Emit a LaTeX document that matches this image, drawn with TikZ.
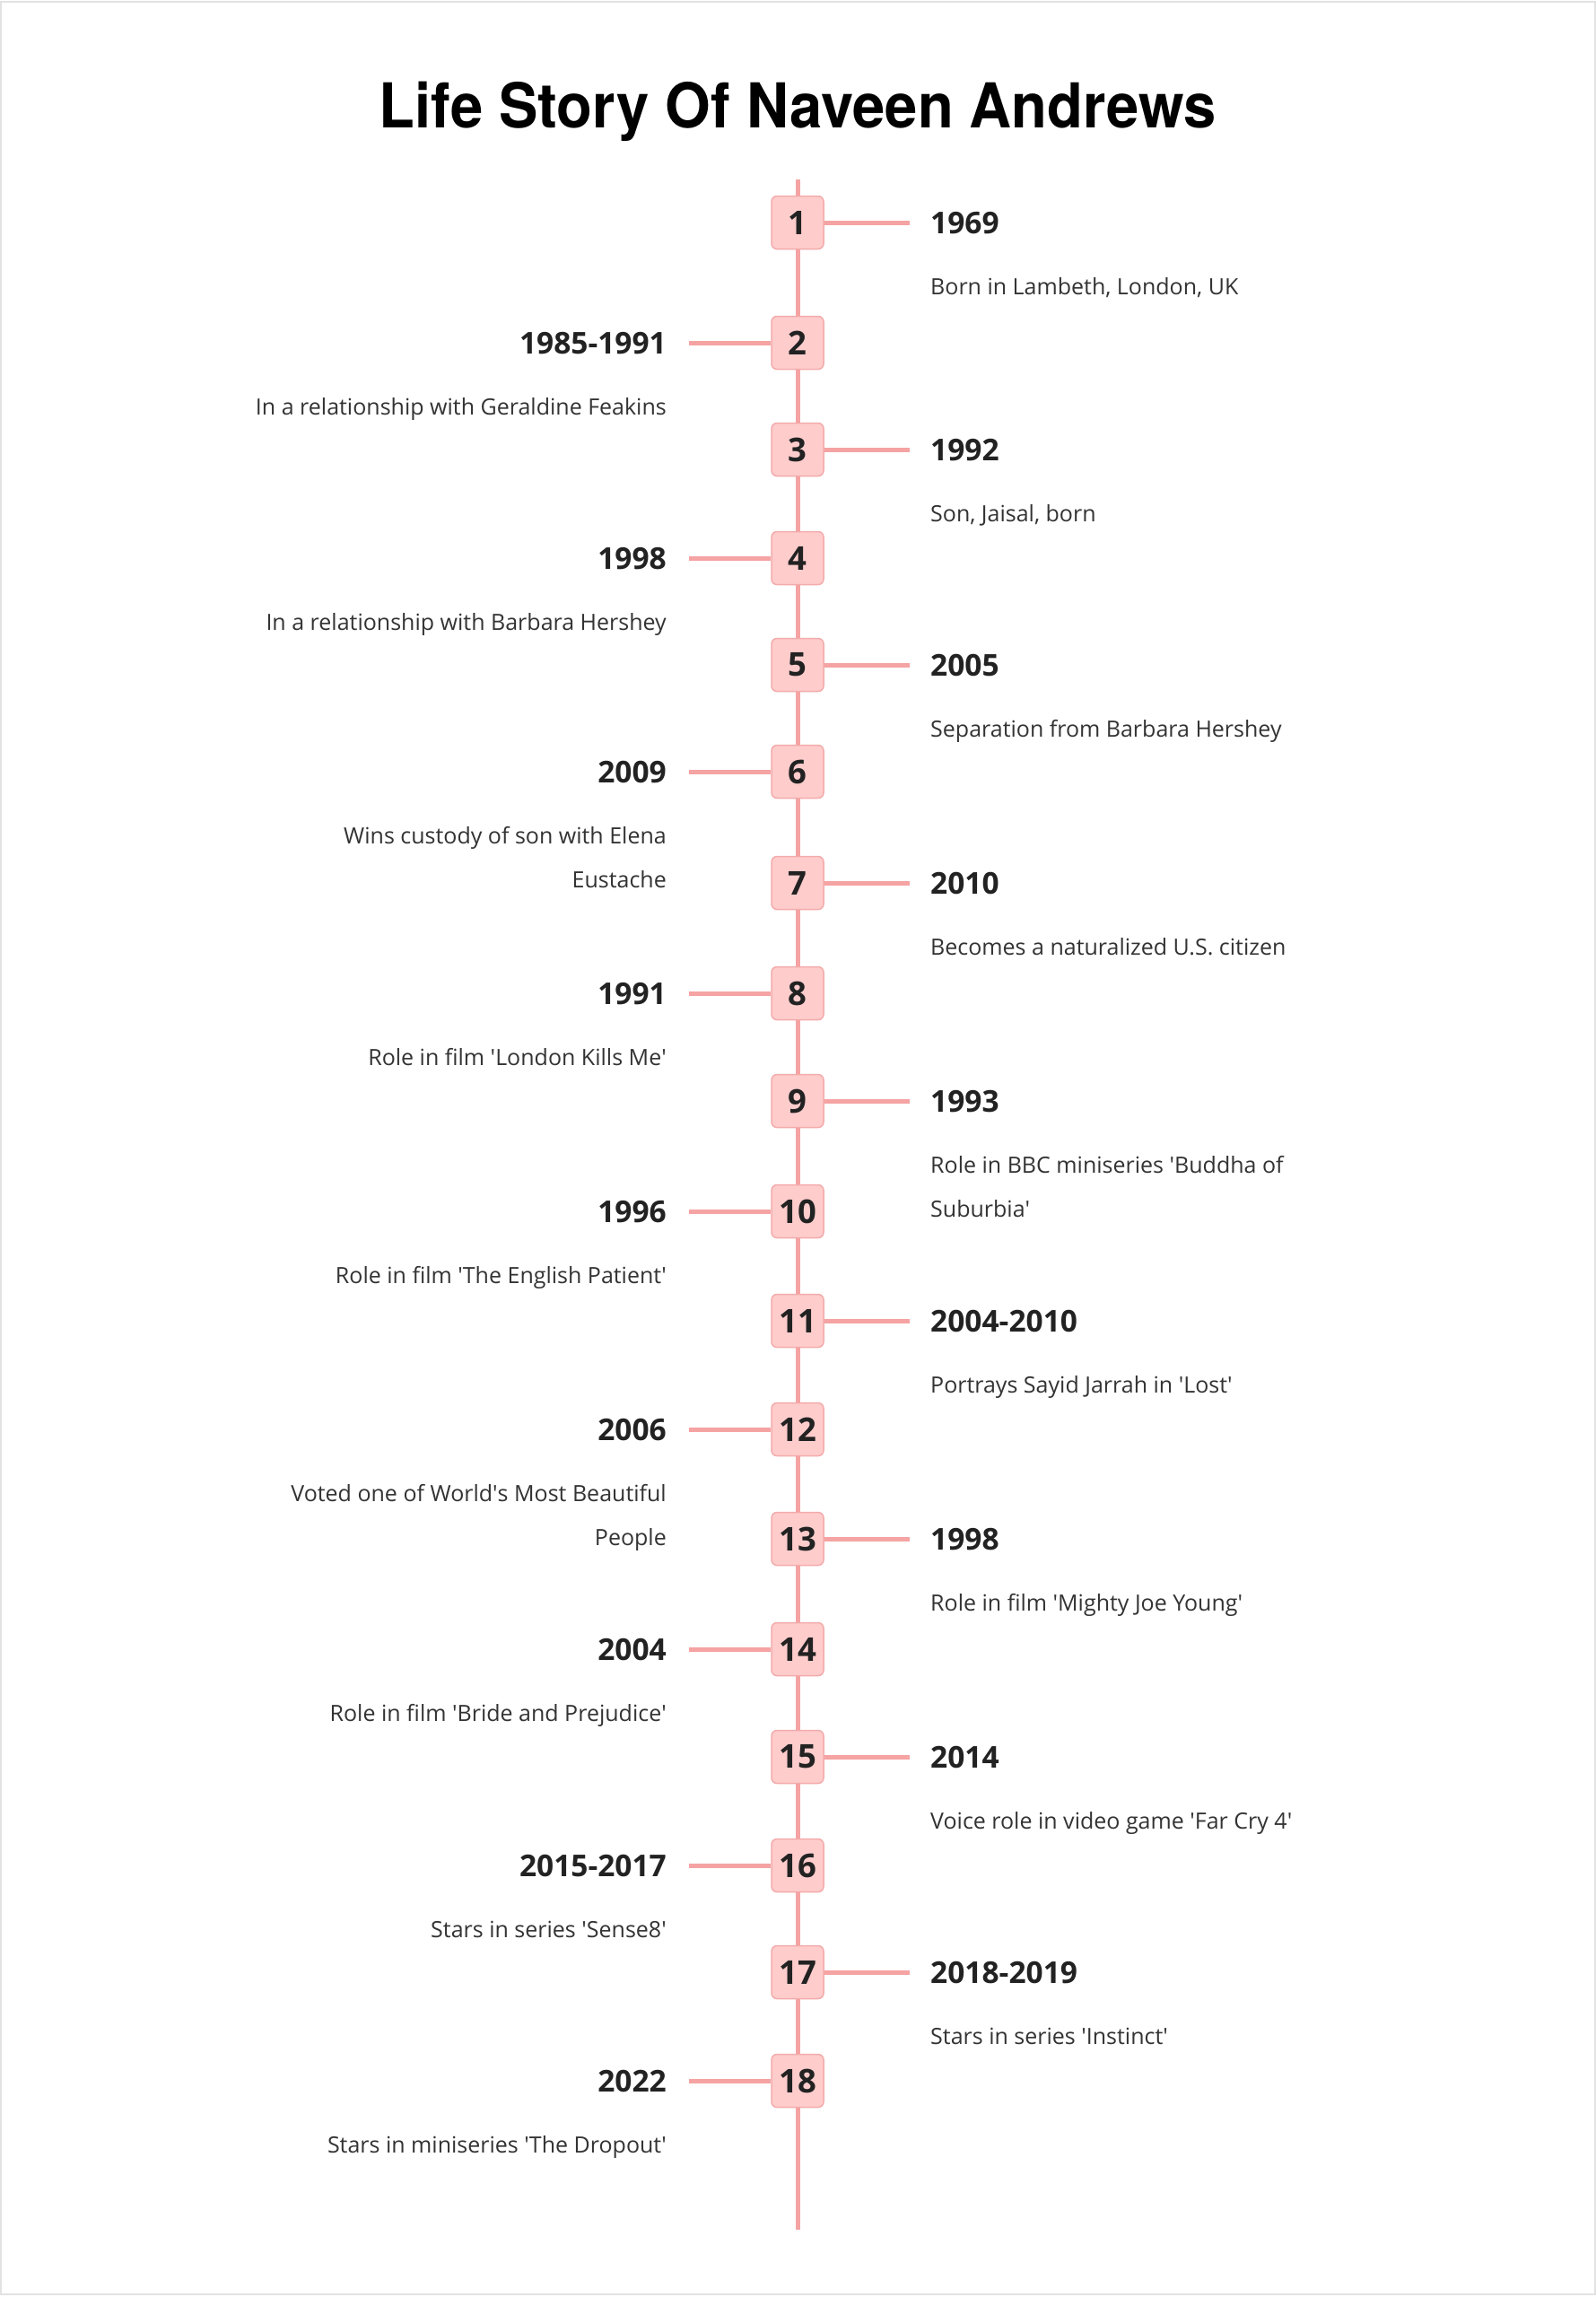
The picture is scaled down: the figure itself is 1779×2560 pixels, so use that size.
\documentclass[tikz,border=0pt]{standalone}
\usepackage{fontspec}
\setmainfont{Open Sans}
\newfontfamily\titlefont{TeX Gyre Heros}
\newcommand\sq{\textquotesingle}

\definecolor{linepink}{HTML}{F5A3A3}
\definecolor{boxfill}{HTML}{FFCCCC}
\definecolor{boxdraw}{HTML}{F3ABAB}
\definecolor{textdark}{HTML}{222222}
\definecolor{textdesc}{HTML}{333333}
\definecolor{framegray}{HTML}{E2E2E2}

\tikzset{
  numbox/.style={draw=boxdraw, line width=1.5pt, fill=boxfill, rounded corners=6pt,
    minimum width=58pt, minimum height=59pt, inner sep=0pt,
    font=\fontsize{36.5}{40}\selectfont\bfseries, text=textdark},
  yearR/.style={anchor=base west, inner sep=0pt, font=\fontsize{33.5}{38}\selectfont\bfseries, text=textdark},
  yearL/.style={anchor=base east, inner sep=0pt, font=\fontsize{33.5}{38}\selectfont\bfseries, text=textdark},
  descR/.style={anchor=base west, inner sep=0pt, font=\fontsize{25}{30}\selectfont, text=textdesc},
  descL/.style={anchor=base east, inner sep=0pt, font=\fontsize{25}{30}\selectfont, text=textdesc},
  conn/.style={draw=linepink, line width=5pt},
  titletext/.style={anchor=base, inner sep=0pt, font=\titlefont\fontsize{69}{80}\selectfont\bfseries, text=black}
}

\newcommand\entryR[5]{%
  \node[numbox] (n#1) at (889,#2) {#3};
  \coordinate (c#1) at (1014,#2);
  \node[yearR] (y#1) at (1037,#2+12) {#4};
  \node[descR] (d#1) at (1037,#2+80) {#5};
  \draw[conn] (n#1) -- (c#1);
}
\newcommand\entryL[5]{%
  \node[numbox] (n#1) at (889,#2) {#3};
  \coordinate (c#1) at (768,#2);
  \node[yearL] (y#1) at (743,#2+12) {#4};
  \node[descL] (d#1) at (743,#2+80) {#5};
  \draw[conn] (n#1) -- (c#1);
}

\begin{document}
\begin{tikzpicture}[x=1pt,y=-1pt]
\useasboundingbox (0,0) rectangle (1779,2560);
\fill[white] (0,0) rectangle (1779,2560);
\draw[framegray, line width=2pt] (1,1.5) rectangle (1777.5,2557);

\node[titletext] (title) at (889,142) {\scalebox{0.944}[1]{Life Story Of Naveen Andrews}};

\entryR{1}{248}{1}{1969}{Born in Lambeth, London, UK}
\entryL{2}{382}{2}{1985-1991}{In a relationship with Geraldine Feakins}
\entryR{3}{501}{3}{1992}{Son, Jaisal, born}
\entryL{4}{622}{4}{1998}{In a relationship with Barbara Hershey}
\entryR{5}{741}{5}{2005}{Separation from Barbara Hershey}
\entryL{6}{860}{6}{2009}{Wins custody of son with Elena\hspace{6pt}}
\node[descL] (d6b) at (743,989) {Eustache};
\entryR{7}{984}{7}{2010}{Becomes a naturalized U.S. citizen}
\entryL{8}{1107}{8}{1991}{Role in film \sq London Kills Me\sq}
\entryR{9}{1227}{9}{1993}{Role in BBC miniseries \sq Buddha of}
\node[descR] (d9b) at (1037,1356) {Suburbia\sq};
\entryL{10}{1350}{10}{1996}{Role in film \sq The English Patient\sq}
\entryR{11}{1472}{11}{2004-2010}{Portrays Sayid Jarrah in \sq Lost\sq}
\entryL{12}{1593}{12}{2006}{Voted one of World\sq s Most Beautiful\hspace{6pt}}
\node[descL] (d12b) at (743,1722) {People};
\entryR{13}{1715}{13}{1998}{Role in film \sq Mighty Joe Young\sq}
\entryL{14}{1838}{14}{2004}{Role in film \sq Bride and Prejudice\sq}
\entryR{15}{1958}{15}{2014}{Voice role in video game \sq Far Cry 4\sq}
\entryL{16}{2079}{16}{2015-2017}{Stars in series \sq Sense8\sq}
\entryR{17}{2198}{17}{2018-2019}{Stars in series \sq Instinct\sq}
\entryL{18}{2319}{18}{2022}{Stars in miniseries \sq The Dropout\sq}

\coordinate (top) at (889,200);
\coordinate (bot) at (889,2485);
\draw[conn] (top) -- (n1);
\foreach \a/\b in {1/2,2/3,3/4,4/5,5/6,6/7,7/8,8/9,9/10,10/11,11/12,12/13,13/14,14/15,15/16,16/17,17/18}
  \draw[conn] (n\a) -- (n\b);
\draw[conn] (n18) -- (bot);
\end{tikzpicture}
\end{document}
